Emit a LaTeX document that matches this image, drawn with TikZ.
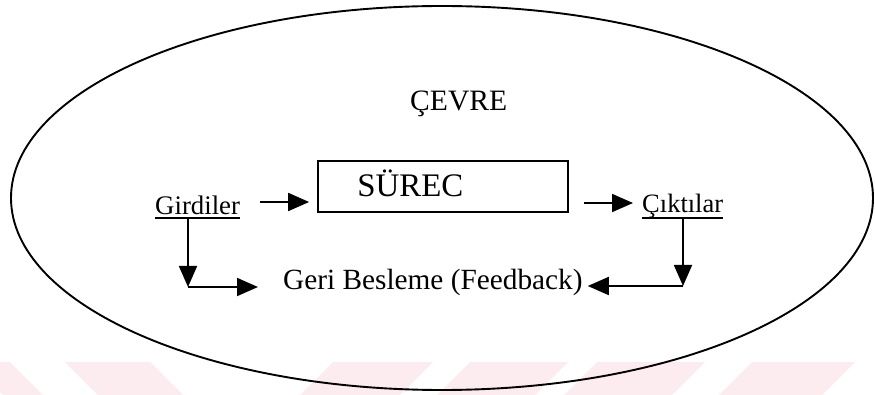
\documentclass[tikz,border=0pt]{standalone}
\usepackage{fontspec}
\setmainfont{Liberation Serif}
\usetikzlibrary{arrows.meta,calc}
\definecolor{wmark}{RGB}{253,236,239}
\tikzset{
  flow/.style={line width=1.8pt, -{Triangle[length=21pt,width=18pt]}},
  txt/.style={inner sep=0pt, anchor=base west},
  uline/.style={line width=1.3pt},
}
\begin{document}
\begin{tikzpicture}[x=1pt,y=-1pt]
\useasboundingbox (0,0) rectangle (875,395);
% faint bands along the bottom
\fill[wmark] (-30,362) -- (10,362) -- (43,395) -- (3,395) -- cycle;
\fill[wmark] (65,362) -- (150,362) -- (183,395) -- (98,395) -- cycle;
\fill[wmark] (333,362) -- (433,362) -- (400,395) -- (300,395) -- cycle;
\fill[wmark] (470,362) -- (568,362) -- (535,395) -- (437,395) -- cycle;
\fill[wmark] (597,362) -- (705,362) -- (672,395) -- (564,395) -- cycle;
\fill[wmark] (752,362) -- (855,362) -- (822,395) -- (719,395) -- cycle;
% environment
\draw[line width=1.9pt] (442,198) ellipse [x radius=431pt, y radius=192pt];
\node[txt, font=\fontsize{29.6}{30}\selectfont] (cevre) at (410,111) {ÇEVRE};
% process box
\node[draw, line width=1.7pt, minimum width=250pt, minimum height=51pt, inner sep=0pt] (surec) at (443,186.5) {};
\node[txt, font=\fontsize{32.9}{33}\selectfont] (surectxt) at ($(surec.west)+(40,10.5)$) {SÜREC};
% inputs, outputs, feedback
\node[txt, font=\fontsize{26.8}{27}\selectfont] (gird) at (155,215) {Girdiler};
\node[txt, font=\fontsize{26.5}{27}\selectfont] (cikti) at (642,213) {Çıktılar};
\node[txt, font=\fontsize{29.3}{30}\selectfont] (geri) at (283,289) {Geri Besleme (Feedback)};
\draw[uline] ($(gird.base west)+(0,3)$) -- ($(gird.base east)+(0,3)$);
\draw[uline] ($(cikti.base west)+(0,5)$) -- ($(cikti.base east)+(0,5)$);
\coordinate (inA) at ($(gird.base east)+(20,-13)$);
\coordinate (outA) at ($(surec.east)+(15,16.5)$);
\coordinate (gtop) at ($(gird.base west)+(33,3)$);
\coordinate (gcorner) at ($(gird.base west)+(33,72)$);
\coordinate (ctop) at ($(cikti.base west)+(41,5)$);
\coordinate (ccorner) at ($(cikti.base west)+(41,73)$);
\draw[flow] (inA) -- ($(inA -| surec.west)+(-8,0)$);
\draw[flow] (outA) -- ($(outA -| cikti.west)+(-9,0)$);
\draw[flow] (gtop) -- (gcorner);
\draw[flow] (gcorner) -- ($(gcorner -| geri.west)+(-25,0)$);
\draw[flow] (ctop) -- (ccorner);
\draw[flow] (ccorner) -- ($(ccorner -| geri.east)+(5,0)$);
\end{tikzpicture}
\end{document}
